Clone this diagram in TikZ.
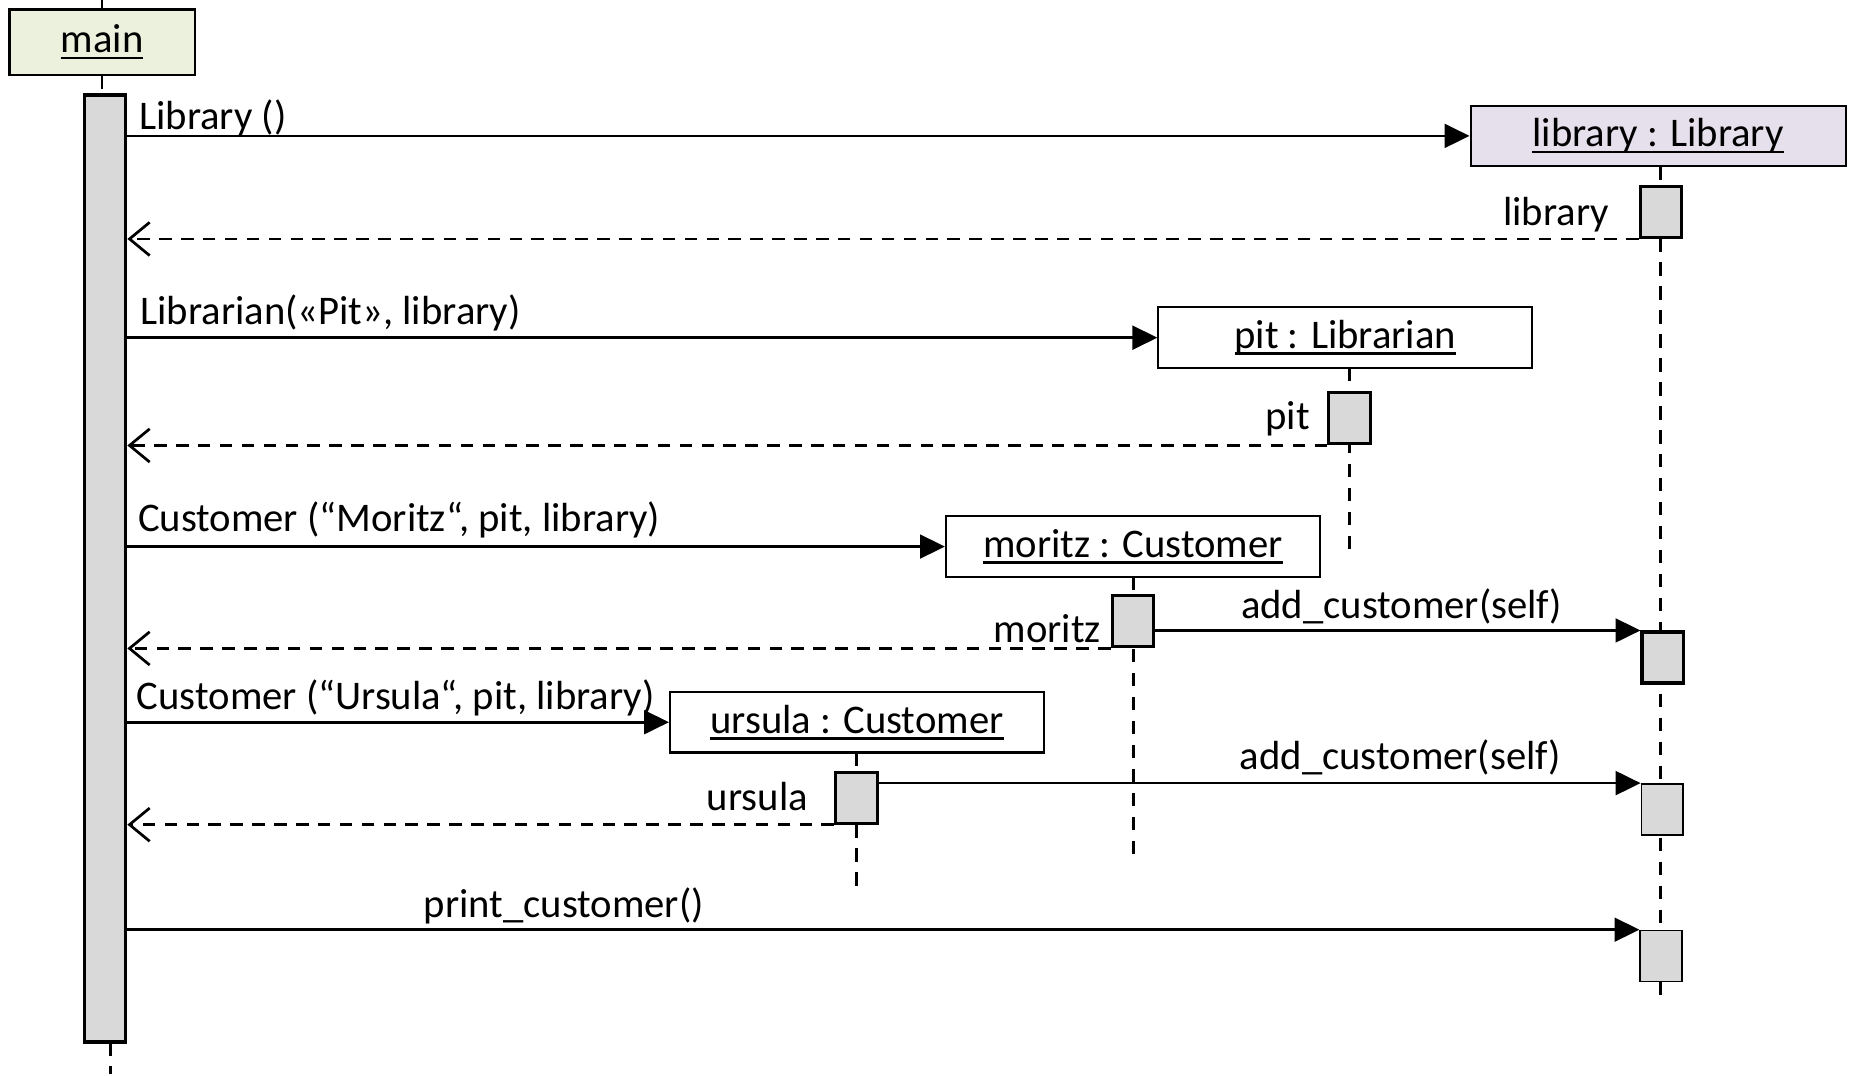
\documentclass[tikz,border=0pt]{standalone}
\usepackage{fontspec}
\setmainfont{Carlito}
\usepackage{tikz}
\usetikzlibrary{arrows.meta}
\usetikzlibrary{calc}
\definecolor{mainfill}{RGB}{236,241,222}
\definecolor{libfill}{RGB}{229,224,236}
\definecolor{actfill}{RGB}{217,217,217}
\newcommand{\objul}[1]{\setbox0\hbox{#1}\rlap{\rule[-3.2pt]{\wd0}{1.3pt}}\box0}
\tikzset{
  every node/.style={font=\fontsize{19.5}{23}\selectfont},
  obj/.style={draw, line width=1pt, fill=white, minimum width=6.3cm, minimum height=1.02cm, inner sep=0pt},
  act/.style={draw, line width=1.5pt, fill=actfill, minimum width=0.7cm, minimum height=0.86cm, inner sep=0pt},
  thinact/.style={act, line width=0.8pt},
  lifeline/.style={line width=1.3pt, dash pattern=on 6.5pt off 5pt},
  call/.style={line width=1.3pt, -{Triangle[length=0.42cm,width=0.4cm]}},
  ret/.style={line width=1.3pt, dash pattern=on 6pt off 4.5pt, -{Straight Barb[length=0.34cm,width=0.56cm]}},
  lbl/.style={inner sep=0pt}
}

\begin{document}
\begin{tikzpicture} [x=0.02cm, y=-0.02cm]
\useasboundingbox (0,0) rectangle (1568,905.8);
% objects
\node[obj, fill=mainfill, minimum width=3.12cm, minimum height=1.1cm] (main) at (86,35.5) {\objul{main}};
\node[obj, fill=libfill, minimum width=6.32cm] (library) at (1397,114.5) {\objul{library : Library}};
\node[obj] (pit) at (1133.5,284.5) {\objul{pit : Librarian}};
\node[obj] (moritz) at (954.5,460.5) {\objul{moritz : Customer}};
\node[obj] (ursula) at (722,608.5) {\objul{ursula : Customer}};
% lifelines
\draw[lifeline] (main.north) -- ++(0,-8);
\draw[lifeline] (main.south) -- ++(0,17);
\draw[lifeline] (93,878) -- (93,905);
\draw[lifeline] (1399,140) -- ++(0,705);
\draw[lifeline] (1137,310) -- ++(0,155);
\draw[lifeline] (955,486) -- ++(0,234);
\draw[lifeline] (721.5,634) -- ++(0,116);
% activations
\node[act, minimum height=15.96cm] (mainbar) at (88.5,479) {};
\node[act] (actlib1) at (1399.5,178.5) {};
\node[act] (actpit) at (1137,352.5) {};
\node[act] (actmor) at (954.5,523.5) {};
\node[act] (actlib2) at (1401,554) {};
\node[act] (actur) at (721.5,672) {};
\node[thinact] (actlib3) at (1400.5,682) {};
\node[thinact] (actlib4) at (1399.5,805.5) {};
% messages
\draw[call] (mainbar.east |- library.west) -- (library.west);
\draw[ret] (actlib1.south west) -- (mainbar.east |- actlib1.south west);
\draw[call] (mainbar.east |- pit.west) -- (pit.west);
\draw[ret] (actpit.south west) -- (mainbar.east |- actpit.south west);
\draw[call] (mainbar.east |- moritz.west) -- (moritz.west);
\draw[ret] (actmor.south west) -- (mainbar.east |- actmor.south west);
\draw[call] (actmor.east |- actlib2.north west) -- (actlib2.north west);
\draw[call] (mainbar.east |- ursula.west) -- (ursula.west);
\draw[ret] (actur.south west) -- (mainbar.east |- actur.south west);
\draw[call] (actur.east |- actlib3.north west) -- (actlib3.north west);
\draw[call] (mainbar.east |- actlib4.north west) -- (actlib4.north west);
% labels
\node[lbl, right] at (117,99) {Library ()};
\node[lbl, left] at (1356,181) {library};
\node[lbl, right] at (118,264) {Librarian(«Pit», library)};
\node[lbl, left] at (1104,353) {pit};
\node[lbl, right] at (116,438) {Customer (“Moritz“, pit, library)};
\node[lbl, left] at (928,530) {moritz};
\node[lbl] at (1181,511) {add\_customer(self)};
\node[lbl, right] at (115,588) {Customer (“Ursula“, pit, library)};
\node[lbl, left] at (681,671) {ursula};
\node[lbl] at (1180,638) {add\_customer(self)};
\node[lbl] at (475,763) {print\_customer()};
\end{tikzpicture}
\end{document}
